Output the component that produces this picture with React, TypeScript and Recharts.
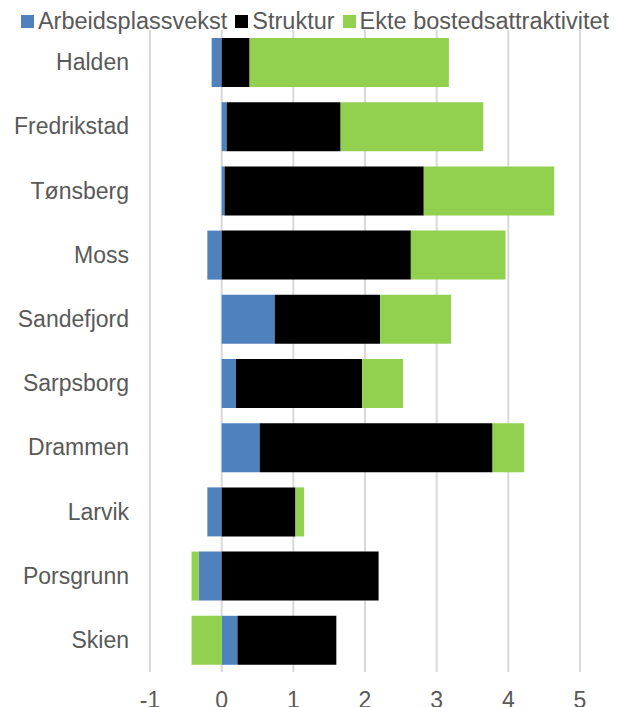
import React from "react";
import { BarChart, Bar, XAxis, YAxis, CartesianGrid, Legend } from "recharts";

const cities = ["Halden", "Fredrikstad", "Tønsberg", "Moss", "Sandefjord", "Sarpsborg", "Drammen", "Larvik", "Porsgrunn", "Skien"];
const arbeidsplassvekst = [-0.14, 0.07, 0.04, -0.2, 0.74, 0.2, 0.53, -0.2, -0.32, 0.22];
const struktur = [0.39, 1.59, 2.78, 2.64, 1.47, 1.76, 3.25, 1.03, 2.19, 1.38];
const ekte = [2.78, 1.99, 1.82, 1.32, 0.99, 0.57, 0.44, 0.12, -0.1, -0.42];
const xTicks = [-1, 0, 1, 2, 3, 4, 5];

const seriesNames = ["Arbeidsplassvekst", "Struktur", "Ekte bostedsattraktivitet"];
const seriesColors = ["#4F81BD", "#000000", "#92D050"];

const data = cities.map((c, i) => ({
  city: c,
  a: arbeidsplassvekst[i],
  s: struktur[i],
  e: ekte[i],
}));

const FONT = "Liberation Sans, Arial, sans-serif";

const LegendContent = () => (
  <div style={{ display: "flex", justifyContent: "center", alignItems: "center", fontFamily: FONT, fontSize: 23.5, color: "#595959", whiteSpace: "nowrap", lineHeight: "22px", height: 22, paddingTop: 0, marginLeft: 4 }}>
    {seriesNames.map((n, i) => (
      <span key={n} style={{ display: "inline-flex", alignItems: "center", marginLeft: i === 0 ? 0 : 8 }}>
        <span style={{ display: "inline-block", width: 13, height: 13, background: seriesColors[i], marginRight: 4 }} />
        {n}
      </span>
    ))}
  </div>
);

export default function App() {
  return (
    <BarChart
      width={610}
      height={699}
      data={data}
      layout="vertical"
      stackOffset="sign"
      margin={{ top: 0, right: 38, bottom: 0, left: 0 }}
      barSize={49}
    >
      <Legend
        verticalAlign="top"
        align="center"
        content={<LegendContent />}
        wrapperStyle={{ top: 2, left: 0, width: 610, height: 22 }}
      />
      <CartesianGrid horizontal={false} stroke="#D9D9D9" strokeWidth={2} />
      <XAxis
        type="number"
        domain={[-1, 5]}
        ticks={xTicks}
        axisLine={false}
        tickLine={false}
        tickSize={0}
        tickMargin={20}
        height={35}
        tick={{ fill: "#595959", fontSize: 23, fontFamily: FONT }}
      />
      <YAxis
        type="category"
        dataKey="city"
        width={142}
        axisLine={false}
        tickLine={false}
        tickSize={0}
        tickMargin={21}
        tick={{ fill: "#595959", fontSize: 23, fontFamily: FONT }}
      />
      <Bar dataKey="a" name={seriesNames[0]} stackId="x" fill={seriesColors[0]} isAnimationActive={false} />
      <Bar dataKey="s" name={seriesNames[1]} stackId="x" fill={seriesColors[1]} isAnimationActive={false} />
      <Bar dataKey="e" name={seriesNames[2]} stackId="x" fill={seriesColors[2]} isAnimationActive={false} />
    </BarChart>
  );
}
